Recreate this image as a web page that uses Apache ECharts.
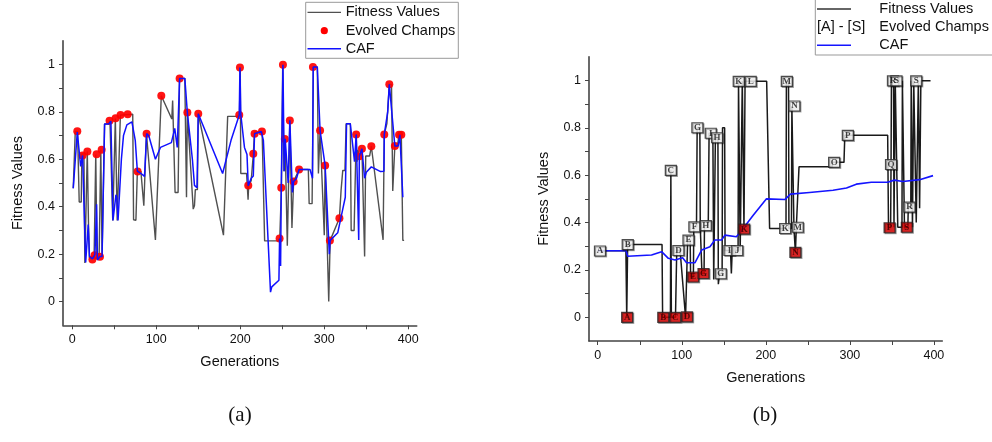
<!DOCTYPE html>
<html>
<head>
<meta charset="utf-8">
<script src="https://cdn.jsdelivr.net/npm/echarts@6/dist/echarts.min.js"></script>
<style>
html,body{margin:0;padding:0;background:#fff;}
#chart{width:992px;height:442px;}
</style>
</head>
<body>
<div id="chart"></div>
<script>
// ---------- Panel (a) ----------
const fitnessA = [[1.2,0.478],[3.6,0.717],[6.3,0.717],[8.3,0.42],[10.7,0.42],[11.5,0.623],[13.9,0.623],[15,0.163],[16.7,0.163],[17.9,0.633],[19,0.633],[19.4,0.32],[20.5,0.184],[26,0.184],[28,0.62],[29.4,0.177],[32,0.19],[34,0.64],[35.5,0.19],[38.5,0.749],[43.5,0.749],[44.9,0.761],[47,0.761],[48.2,0.342],[50,0.342],[51.3,0.772],[52.5,0.772],[53.5,0.342],[55.5,0.342],[57.3,0.786],[58.5,0.786],[59.5,0.79],[72,0.79],[73,0.345],[75.8,0.343],[77.5,0.549],[81.7,0.549],[85.2,0.404],[88.3,0.71],[90.5,0.71],[99,0.26],[106,0.868],[118.5,0.77],[119.5,0.848],[121.8,0.848],[122.4,0.46],[126,0.46],[127.7,0.941],[134,0.941],[136,0.44],[137,0.797],[144,0.39],[145.5,0.405],[146.5,0.472],[149,0.472],[150,0.792],[180,0.28],[185,0.781],[196,0.781],[199,0.787],[200,0.987],[200.6,0.54],[207.5,0.54],[209.3,0.43],[210,0.49],[213,0.51],[215.5,0.62],[217,0.715],[226,0.715],[229,0.256],[245,0.256],[247,0.266],[249,0.48],[250.5,0.999],[252,0.55],[253.3,0.686],[256,0.235],[259,0.764],[261.5,0.31],[262.7,0.305],[263.5,0.506],[270,0.557],[281,0.557],[282,0.413],[285.5,0.413],[287,0.989],[291.7,0.989],[293,0.54],[295,0.721],[300,0.28],[301,0.574],[305.3,0.0],[307,0.258],[318,0.351],[320,0.47],[321,0.47],[322,0.553],[324.6,0.553],[326,0.75],[331,0.75],[332,0.3],[335.5,0.3],[338,0.704],[339,0.59],[340,0.64],[341.7,0.613],[343,0.614],[344.8,0.644],[348,0.19],[349.3,0.614],[354,0.614],[356,0.655],[370,0.26],[371.4,0.705],[374.5,0.75],[377.4,0.916],[380,0.916],[381.5,0.466],[384,0.656],[387,0.656],[389,0.703],[391.7,0.703],[393.5,0.258],[395,0.258]];

const champsA = [[6,0.718],[12.3,0.616],[18,0.633],[24,0.177],[26.6,0.195],[29,0.621],[33,0.189],[35,0.64],[44.4,0.762],[51.6,0.773],[57.5,0.787],[66,0.79],[77.8,0.548],[88.5,0.708],[106,0.868],[127.8,0.941],[137,0.797],[150,0.792],[198.8,0.787],[199.6,0.987],[209.5,0.489],[215.5,0.623],[217,0.708],[225.8,0.717],[246.8,0.266],[248.8,0.48],[250.8,0.999],[253,0.686],[259,0.764],[263.5,0.506],[270,0.557],[286.5,0.989],[295,0.721],[301,0.574],[306.7,0.258],[318,0.351],[338,0.704],[341.7,0.613],[344.8,0.644],[356,0.655],[371.4,0.705],[377.4,0.916],[384,0.656],[389,0.703],[391.7,0.703]];

const cafA = [[1.2,0.478],[6,0.715],[7.5,0.715],[10,0.57],[12.3,0.616],[14,0.612],[16,0.165],[19,0.325],[20.5,0.19],[24,0.18],[27,0.198],[29,0.41],[30,0.175],[33,0.19],[35.5,0.19],[38.5,0.749],[43.5,0.749],[46,0.76],[48.5,0.342],[50.5,0.342],[52,0.45],[53,0.44],[54.5,0.342],[56.5,0.335],[58.5,0.6],[61,0.7],[65,0.745],[71,0.758],[72.5,0.76],[75,0.68],[77.5,0.55],[82,0.54],[86,0.528],[88.6,0.708],[91,0.7],[99,0.6],[105,0.65],[118,0.67],[122,0.73],[125,0.65],[127.8,0.941],[134,0.941],[137,0.797],[143,0.6],[145.5,0.49],[148.5,0.48],[150,0.792],[179,0.54],[189,0.68],[198.8,0.787],[199.6,0.987],[200.6,0.79],[205,0.65],[208,0.62],[209.5,0.489],[213,0.52],[215.5,0.53],[217,0.708],[225,0.717],[227.5,0.68],[236,0.04],[237.5,0.062],[246,0.09],[246.8,0.266],[248,0.15],[248.8,0.48],[250.8,0.999],[252.3,0.55],[253.5,0.686],[257,0.5],[259,0.764],[262,0.46],[263.5,0.506],[267,0.52],[270,0.557],[283,0.557],[286,0.52],[286.8,0.989],[291.7,0.989],[295,0.721],[301,0.574],[306,0.2],[307,0.258],[316,0.29],[322,0.39],[325,0.44],[326.5,0.75],[331,0.75],[336,0.59],[338,0.704],[341,0.26],[341.7,0.613],[344.8,0.644],[348,0.52],[350,0.545],[356,0.568],[367,0.548],[371,0.55],[371.4,0.705],[375.5,0.8],[377.4,0.916],[379.5,0.912],[384,0.656],[388,0.656],[390,0.703],[393.5,0.44]];

// ---------- Panel (b) ----------
const fitnessB = [[3,0.281],[33.5,0.281],[34.5,0],[35.2,0],[35.6,0.307],[76.5,0.307],[77.2,0],[86.5,0],[87,0.62],[87.6,0],[92.5,0],[94,0.282],[98,0.282],[104.5,0],[106.5,0],[107,0.326],[110,0.326],[110.5,0.17],[113.8,0.17],[114.3,0.382],[117.5,0.382],[118.3,0.8],[121.5,0.8],[122,0.382],[123.5,0.382],[124,0.185],[126.5,0.185],[127,0.387],[131.5,0.387],[132.5,0.777],[137,0.777],[138,0.16],[139.5,0.16],[140,0.758],[143,0.758],[143.5,0.14],[145,0.184],[148,0.184],[148.5,0.8],[151,0.8],[151.5,0.282],[158,0.282],[159,0.185],[160,0.282],[167,0.282],[167.5,0.996],[169,0.996],[169.5,0.282],[171.5,0.282],[172,0.996],[173.5,0.996],[174,0.371],[174.8,0.371],[175.3,0.996],[201,0.996],[204.5,0.375],[224,0.375],[224.5,0.996],[227,0.996],[227.5,0.375],[230.5,0.375],[231,0.892],[233,0.892],[233.5,0.375],[235,0.375],[235.2,0.274],[236,0.274],[236.3,0.38],[238.5,0.38],[239.5,0.635],[279,0.635],[279.5,0.654],[293,0.654],[294,0.768],[345,0.768],[346,0.379],[348.5,0.379],[349,0.645],[349.5,0.998],[352,0.998],[352.5,0.38],[353.5,0.38],[354,0.998],[356,0.998],[357,0.38],[362,0.38],[362.5,0.998],[364.5,0.998],[365,0.379],[369,0.379],[369.5,0.465],[372.5,0.465],[373,0.998],[374,0.998],[374.5,0.38],[375.5,0.38],[376,0.998],[378,0.998],[379,0.4],[381,0.4],[381.5,0.998],[382.5,0.998],[383,0.46],[384,0.46],[384.5,0.998],[396,0.998]];

const cafB = [[0,0.281],[33.7,0.281],[35.6,0.258],[64,0.263],[76,0.277],[84,0.249],[92,0.242],[101,0.251],[105.7,0.23],[115.6,0.23],[123.6,0.284],[133.5,0.298],[139.4,0.326],[147.3,0.326],[151.3,0.347],[165,0.34],[173,0.375],[185,0.431],[200.8,0.5],[222.6,0.497],[229.3,0.52],[252,0.527],[280,0.536],[296,0.546],[307.7,0.562],[325.5,0.57],[345,0.57],[353,0.579],[363,0.573],[383,0.581],[399,0.598]];

const whiteLetters = ['A','B','C','D','E','F','G','H','I','H','G','I','J','K','L','K','M','N','M','O','P','Q','R','S','R','S'];
const whiteGens    = [2.7,35.7,87,96,108,115,118.6,128.6,134.5,142,146.4,156.7,166,167.8,182,223,225,234,238,281.3,297.6,349,351.3,355.5,371,379];
const whiteVals    = [0.28,0.307,0.62,0.282,0.326,0.382,0.80,0.387,0.777,0.758,0.184,0.282,0.282,0.996,0.996,0.375,0.996,0.892,0.38,0.654,0.768,0.645,0.998,0.998,0.465,0.998];

const redLetters = ['A','B','C','D','E','G','K','N','P','S'];
const redGens    = [35,78,92.2,106.3,113.5,125.9,174.2,235.2,347.3,367.8];
const redVals    = [0,0,0,0.002,0.17,0.185,0.372,0.274,0.378,0.38];

const xTickVals = [0,50,100,150,200,250,300,350,400];
const xLabelVals = [0,100,200,300,400];
const yTickVals = [0,0.1,0.2,0.3,0.4,0.5,0.6,0.7,0.8,0.9,1.0];
const yLabelVals = [0,0.2,0.4,0.6,0.8,1];

// ---------- Chart ----------
const FONT = '"Liberation Sans", Arial, sans-serif';
const axisColor = '#444';

function xAxisCfg(gridIndex, min) {
  return {
    type: 'value', gridIndex: gridIndex, min: min, max: 410,
    name: 'Generations', nameLocation: 'middle', nameGap: 29,
    nameTextStyle: {fontFamily: FONT, fontSize: 14.5, color: '#111'},
    axisLine: {show: true, onZero: false, lineStyle: {color: axisColor, width: 1.6}},
    axisTick: {show: true, inside: false, length: 4, customValues: xTickVals, lineStyle: {color: axisColor, width: 1}},
    axisLabel: {show: true, margin: 8, customValues: xLabelVals, fontFamily: FONT, fontSize: 12.5, color: '#111'},
    splitLine: {show: false}
  };
}
function yAxisCfg(gridIndex) {
  return {
    type: 'value', gridIndex: gridIndex, min: -0.1, max: 1.1,
    name: 'Fitness Values', nameLocation: 'middle', nameGap: 38, nameRotate: 90,
    nameTextStyle: {fontFamily: FONT, fontSize: 14.5, color: '#111'},
    axisLine: {show: true, onZero: false, lineStyle: {color: axisColor, width: 1.6}},
    axisTick: {show: true, inside: false, length: 4, customValues: yTickVals, lineStyle: {color: axisColor, width: 1}},
    axisLabel: {show: true, margin: 8, customValues: yLabelVals, fontFamily: FONT, fontSize: 12.5, color: '#111',
      formatter: function (v) { return (Math.abs(v) < 1e-9) ? '0' : (Math.abs(v - 1) < 1e-9 ? '1' : v.toFixed(1)); }},
    splitLine: {show: false}
  };
}

function boxData(letters, gens, vals) {
  return letters.map(function (l, i) { return {name: l, value: [gens[i], vals[i]]}; });
}

const chart = echarts.init(document.getElementById('chart'), null, {renderer: 'canvas'});
const option = {
  animation: false,
  backgroundColor: '#ffffff',
  grid: [
    {left: 63, top: 40.7, width: 353.7, height: 284.6},
    {left: 589, top: 56.7, width: 353.3, height: 284.3}
  ],
  xAxis: [xAxisCfg(0, -11), xAxisCfg(1, -10.4)],
  yAxis: [yAxisCfg(0), yAxisCfg(1)],
  series: [
    {name: 'Fitness Values', type: 'line', xAxisIndex: 0, yAxisIndex: 0, data: fitnessA,
      symbol: 'none', lineStyle: {color: '#505050', width: 1.4}, z: 2},
    {name: 'Evolved Champs', type: 'scatter', xAxisIndex: 0, yAxisIndex: 0, data: champsA,
      symbol: 'circle', symbolSize: 8, itemStyle: {color: '#ff0000', opacity: 0.92}, z: 3},
    {name: 'CAF', type: 'line', xAxisIndex: 0, yAxisIndex: 0, data: cafA,
      symbol: 'none', lineStyle: {color: '#1010ff', width: 1.5}, z: 4},

    {name: 'Fitness Values (b)', type: 'line', xAxisIndex: 1, yAxisIndex: 1, data: fitnessB,
      symbol: 'none', lineStyle: {color: '#1a1a1a', width: 1.5}, z: 2},
    {name: 'CAF (b)', type: 'line', xAxisIndex: 1, yAxisIndex: 1, data: cafB,
      symbol: 'none', lineStyle: {color: '#1414ff', width: 1.6}, z: 3},
    {name: 'Champs white', type: 'scatter', xAxisIndex: 1, yAxisIndex: 1, data: boxData(whiteLetters, whiteGens, whiteVals),
      symbol: 'rect', symbolSize: [11, 10],
      itemStyle: {color: '#ffffff', borderColor: '#222', borderWidth: 1.2, shadowColor: 'rgba(0,0,0,0.4)', shadowOffsetX: 1, shadowOffsetY: 1},
      label: {show: true, position: 'inside', formatter: '{b}', fontFamily: '"Liberation Serif", serif', fontWeight: 'bold', fontSize: 9, color: '#111'},
      z: 5},
    {name: 'Champs red', type: 'scatter', xAxisIndex: 1, yAxisIndex: 1, data: boxData(redLetters, redGens, redVals),
      symbol: 'rect', symbolSize: [11, 10],
      itemStyle: {color: '#e00000', borderColor: '#222', borderWidth: 1.2, shadowColor: 'rgba(0,0,0,0.4)', shadowOffsetX: 1, shadowOffsetY: 1},
      label: {show: true, position: 'inside', formatter: '{b}', fontFamily: '"Liberation Serif", serif', fontWeight: 'bold', fontSize: 9, color: '#300'},
      z: 6}
  ],
  graphic: [
    // legend (a)
    {type: 'rect', shape: {x: 305.7, y: 2.3, width: 152.6, height: 56}, style: {fill: '#fff', stroke: '#999', lineWidth: 1}, z: 100},
    {type: 'line', shape: {x1: 307.5, y1: 12.3, x2: 341, y2: 12.3}, style: {stroke: '#505050', lineWidth: 1.3}, z: 101},
    {type: 'circle', shape: {cx: 324.3, cy: 30.7, r: 3.6}, style: {fill: '#ff0000'}, z: 101},
    {type: 'line', shape: {x1: 307.5, y1: 48.7, x2: 341, y2: 48.7}, style: {stroke: '#1010ff', lineWidth: 1.4}, z: 101},
    {type: 'text', x: 345.7, y: 12.3, style: {text: 'Fitness Values', font: '14.5px ' + FONT, fill: '#111', textVerticalAlign: 'middle'}, z: 101},
    {type: 'text', x: 345.7, y: 30.7, style: {text: 'Evolved Champs', font: '14.5px ' + FONT, fill: '#111', textVerticalAlign: 'middle'}, z: 101},
    {type: 'text', x: 345.7, y: 48.7, style: {text: 'CAF', font: '14.5px ' + FONT, fill: '#111', textVerticalAlign: 'middle'}, z: 101},
    // legend (b)
    {type: 'rect', shape: {x: 815.3, y: -3, width: 200, height: 58}, style: {fill: '#fff', stroke: '#999', lineWidth: 1}, z: 100},
    {type: 'line', shape: {x1: 817, y1: 9, x2: 851, y2: 9}, style: {stroke: '#333', lineWidth: 1.3}, z: 101},
    {type: 'text', x: 817, y: 27.3, style: {text: '[A] - [S]', font: '14.5px ' + FONT, fill: '#111', textVerticalAlign: 'middle'}, z: 101},
    {type: 'line', shape: {x1: 817, y1: 45.3, x2: 851, y2: 45.3}, style: {stroke: '#1414ff', lineWidth: 1.4}, z: 101},
    {type: 'text', x: 879.3, y: 9, style: {text: 'Fitness Values', font: '14.5px ' + FONT, fill: '#111', textVerticalAlign: 'middle'}, z: 101},
    {type: 'text', x: 879.3, y: 27.3, style: {text: 'Evolved Champs', font: '14.5px ' + FONT, fill: '#111', textVerticalAlign: 'middle'}, z: 101},
    {type: 'text', x: 879.3, y: 45.3, style: {text: 'CAF', font: '14.5px ' + FONT, fill: '#111', textVerticalAlign: 'middle'}, z: 101},
    // panel captions
    {type: 'text', x: 240, y: 415, style: {text: '(a)', font: '21px "Liberation Serif", "DejaVu Serif", serif', fill: '#111', textAlign: 'center', textVerticalAlign: 'middle'}, z: 101},
    {type: 'text', x: 765, y: 415, style: {text: '(b)', font: '21px "Liberation Serif", "DejaVu Serif", serif', fill: '#111', textAlign: 'center', textVerticalAlign: 'middle'}, z: 101}
  ]
};
chart.setOption(option);
</script>
</body>
</html>
